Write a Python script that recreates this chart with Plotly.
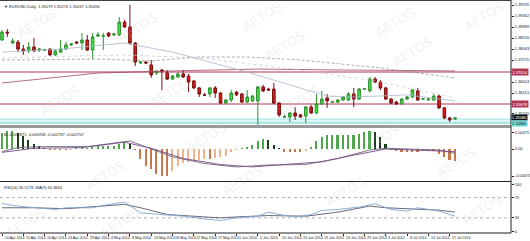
import plotly.graph_objects as go

# ---------------- data ----------------
bar_index = list(range(86))

opens = [1.3843, 1.3877, 1.3830, 1.3834, 1.3804, 1.3796, 1.3813, 1.3800, 1.3800, 1.3804,
         1.3779, 1.3791, 1.3804, 1.3822, 1.3834, 1.3830, 1.3843, 1.3800, 1.3860, 1.3860,
         1.3873, 1.3865, 1.3865, 1.3920, 1.3899, 1.3830, 1.3744, 1.3748, 1.3736, 1.3701,
         1.3714, 1.3701, 1.3675, 1.3684, 1.3697, 1.3688, 1.3667, 1.3637, 1.3607, 1.3611,
         1.3637, 1.3615, 1.3572, 1.3585, 1.3619, 1.3611, 1.3576, 1.3581, 1.3581, 1.3641,
         1.3632, 1.3632, 1.3572, 1.3512, 1.3512, 1.3529, 1.3521, 1.3516, 1.3555, 1.3529,
         1.3568, 1.3594, 1.3576, 1.3576, 1.3585, 1.3585, 1.3611, 1.3589, 1.3632, 1.3624,
         1.3675, 1.3662, 1.3637, 1.3589, 1.3576, 1.3568, 1.3589, 1.3598, 1.3624, 1.3589,
         1.3585, 1.3585, 1.3602, 1.3551, 1.3508, 1.3503]
highs = [1.3886, 1.3890, 1.3852, 1.3843, 1.3822, 1.3834, 1.3852, 1.3809, 1.3804, 1.3809,
         1.3800, 1.3843, 1.3834, 1.3830, 1.3839, 1.3873, 1.3865, 1.3873, 1.3877, 1.3873,
         1.3877, 1.3873, 1.3942, 1.3929, 1.3994, 1.3834, 1.3753, 1.3753, 1.3757, 1.3710,
         1.3718, 1.3714, 1.3693, 1.3705, 1.3714, 1.3697, 1.3671, 1.3641, 1.3615, 1.3641,
         1.3645, 1.3619, 1.3589, 1.3628, 1.3624, 1.3615, 1.3628, 1.3607, 1.3645, 1.3650,
         1.3637, 1.3658, 1.3576, 1.3521, 1.3533, 1.3555, 1.3525, 1.3559, 1.3564, 1.3611,
         1.3624, 1.3611, 1.3581, 1.3589, 1.3602, 1.3619, 1.3637, 1.3637, 1.3637, 1.3684,
         1.3684, 1.3671, 1.3641, 1.3594, 1.3581, 1.3594, 1.3602, 1.3632, 1.3637, 1.3594,
         1.3594, 1.3611, 1.3607, 1.3555, 1.3512, 1.3512]
lows = [1.3839, 1.3856, 1.3826, 1.3791, 1.3779, 1.3787, 1.3791, 1.3791, 1.3796, 1.3774,
        1.3774, 1.3787, 1.3800, 1.3817, 1.3826, 1.3800, 1.3796, 1.3761, 1.3856, 1.3800,
        1.3856, 1.3860, 1.3860, 1.3895, 1.3822, 1.3731, 1.3740, 1.3740, 1.3680, 1.3693,
        1.3628, 1.3671, 1.3671, 1.3680, 1.3680, 1.3619, 1.3632, 1.3598, 1.3602, 1.3598,
        1.3594, 1.3568, 1.3568, 1.3576, 1.3602, 1.3572, 1.3572, 1.3576, 1.3478, 1.3619,
        1.3624, 1.3568, 1.3512, 1.3508, 1.3490, 1.3499, 1.3508, 1.3486, 1.3525, 1.3525,
        1.3564, 1.3551, 1.3572, 1.3572, 1.3581, 1.3581, 1.3555, 1.3585, 1.3628, 1.3619,
        1.3658, 1.3628, 1.3585, 1.3568, 1.3564, 1.3564, 1.3585, 1.3594, 1.3581, 1.3585,
        1.3581, 1.3581, 1.3546, 1.3503, 1.3490, 1.3499]
closes = [1.3877, 1.3873, 1.3839, 1.3804, 1.3796, 1.3813, 1.3796, 1.3804, 1.3801, 1.3779,
          1.3796, 1.3804, 1.3822, 1.3826, 1.3830, 1.3843, 1.3800, 1.3856, 1.3865, 1.3861,
          1.3860, 1.3869, 1.3920, 1.3899, 1.3830, 1.3748, 1.3748, 1.3744, 1.3693, 1.3710,
          1.3710, 1.3675, 1.3688, 1.3697, 1.3684, 1.3662, 1.3637, 1.3611, 1.3606, 1.3637,
          1.3615, 1.3572, 1.3585, 1.3615, 1.3607, 1.3576, 1.3598, 1.3602, 1.3641, 1.3624,
          1.3628, 1.3572, 1.3521, 1.3513, 1.3529, 1.3516, 1.3512, 1.3555, 1.3529, 1.3568,
          1.3589, 1.3581, 1.3577, 1.3585, 1.3598, 1.3611, 1.3589, 1.3632, 1.3633, 1.3675,
          1.3662, 1.3637, 1.3589, 1.3572, 1.3568, 1.3589, 1.3598, 1.3628, 1.3585, 1.3590,
          1.3589, 1.3602, 1.3551, 1.3508, 1.3499, 1.3508]

tick_index = list(range(0, 85, 4))
tick_labels = ["10 Apr 2014", "15 Apr 2014", "20 Apr 2014", "24 Apr 2014", "29 Apr 2014",
               "4 May 2014", "8 May 2014", "13 May 2014", "18 May 2014", "22 May 2014",
               "27 May 2014", "1 Jun 2014", "5 Jun 2014", "10 Jun 2014", "15 Jun 2014",
               "19 Jun 2014", "24 Jun 2014", "29 Jun 2014", "3 Jul 2014", "8 Jul 2014",
               "13 Jul 2014", "17 Jul 2014"]

# moving-average overlays (vertices)
ma_slow_idx = [0, 9, 18, 32, 48, 64, 85]
ma_slow_val = [1.3658, 1.3680, 1.3701, 1.3710, 1.3718, 1.3714, 1.3710]
ma_dash_idx = [0, 18, 28, 37, 46, 56, 71, 85]
ma_dash_val = [1.3757, 1.3761, 1.3753, 1.3770, 1.3770, 1.3757, 1.3723, 1.3680]
ma_fast_idx = [0, 11, 23, 32, 46, 56, 61, 66, 76, 85]
ma_fast_val = [1.3791, 1.3804, 1.3830, 1.3791, 1.3705, 1.3637, 1.3602, 1.3598, 1.3607, 1.3581]
ma_mid_idx = [0, 23, 37, 56, 70, 85]
ma_mid_val = [1.3766, 1.3779, 1.3766, 1.3714, 1.3667, 1.3594]

level_lines = [1.37054, 1.35678]
level_labels = ["1.37054", "1.35678"]
support_band = [1.3486, 1.3503]
last_price_label = "1.35086"
band_label = "1.34860"

price_ticks = [1.39935, 1.39462, 1.38989, 1.38516, 1.38043, 1.37570, 1.36624, 1.36151, 1.35270]
price_tick_text = ["1.39935", "1.39462", "1.38989", "1.38516", "1.38043", "1.37570",
                   "1.36624", "1.36151", "1.35205"]

macd_hist = [0.0040, 0.0045, 0.0045, 0.0040, 0.00325, 0.00225, 0.00125, 0.00075, 0.00025, -0.00025,
             -0.00025, -0.00025, -0.00025, -0.000125, 0.000125, 0.00025, 0.00025, 0.000375, 0.00075, 0.00075,
             0.00075, 0.00075, 0.00125, 0.00175, 0.00125, -0.00025, -0.0025, -0.00425, -0.005, -0.00625,
             -0.00675, -0.00675, -0.0055, -0.00425, -0.0035, -0.00325, -0.003, -0.00275, -0.0025, -0.0025,
             -0.00225, -0.002, -0.00175, -0.00075, -0.000125, 0.000125, 0.0005, 0.001, 0.002, 0.0025,
             0.00225, 0.001, 0.000075, -0.00075, -0.00075, -0.00075, -0.00075, -0.0005, 0.0005, 0.002,
             0.003, 0.0035, 0.0035, 0.0035, 0.0035, 0.0035, 0.0035, 0.00375, 0.00425, 0.0045,
             0.00425, 0.003, 0.00125, -0.00025, -0.0005, -0.00075, -0.00075, -0.00075, -0.00075, -0.0005,
             -0.0005, -0.0005, -0.00125, -0.002, -0.00275, -0.003]
macd_line_idx = [0, 3, 8, 16, 24, 26, 32, 38, 44, 50, 57, 63, 69, 72, 79, 82, 85]
macd_line_val = [-0.00068, 0.00035, 0.0006, 0.0006, 0.002, 0.001, -0.00195, -0.00363, -0.0045,
                 -0.004, -0.00388, -0.00238, -0.00025, 0.00018, 0.0, -0.00025, -0.0011]
macd_signal_idx = [0, 6, 15, 23, 28, 34, 41, 47, 53, 60, 66, 72, 82, 85]
macd_signal_val = [-0.00085, 0.00018, 0.00035, 0.0017, 0.00018, -0.00238, -0.00388, -0.00448,
                   -0.00388, -0.0032, -0.00153, 0.0, -0.0005, -0.00068]
macd_ticks = [0.0042, 0.0, -0.00675]
macd_tick_text = ["0.00475", "0.00", "-0.00675"]

rsi_idx = [0, 2, 5, 10, 12, 17, 19, 23, 26, 30, 34, 38, 41, 44, 48, 50, 52, 55, 58, 60,
           63, 67, 70, 73, 76, 78, 82, 85]
rsi_val = [58.5, 54.5, 51.2, 46.5, 49.9, 49.9, 54.5, 61.2, 39.8, 36.5, 33.2, 27.8, 24.5, 29.8,
           33.2, 41.2, 36.5, 31.8, 36.5, 44.5, 46.5, 51.2, 57.9, 46.5, 43.2, 49.9, 43.2, 33.2]
rsi_ma_idx = [0, 6, 12, 19, 23, 26, 31, 38, 41, 44, 50, 57, 63, 69, 72, 79, 82, 85]
rsi_ma_val = [49.9, 49.9, 48.0, 53.2, 56.5, 49.9, 36.5, 31.8, 29.8, 31.8, 34.5, 33.2, 41.2,
              53.2, 49.9, 46.5, 45.2, 41.2]
rsi_levels = [70, 30]
rsi_ticks = [95, 70, 30, 3]
rsi_tick_text = ["100", "70", "30", "0"]

title_main = "▼ EURUSD,Daily  1.35079 1.35276 1.35037 1.35096"
title_macd = "M -0.002871 -0.000958 -0.002787 -0.002707"
title_rsi = "RSI(14) 30.5178  MA(9) 40.3644"

watermark_pos = [(37, 23), (138, 28), (262, 16), (285, 45), (395, 22), (413, 52), (484, 16),
                 (60, 100), (170, 92), (300, 100), (105, 175), (206, 137), (243, 181),
                 (345, 191), (456, 162), (482, 209), (26, 222), (120, 222), (380, 140)]

# ---------------- figure ----------------
W, H = 530, 241
ML, MR, MT, MB = 0, 19, 0, 8
PW, PH = W - ML - MR, H - MT - MB


def py(px):
    """pixel row from top of plot area -> paper fraction"""
    return (PH - px) / PH


px_per_bar = 5.33
x0 = -2 / px_per_bar
x1 = x0 + PW / px_per_bar

FONT = "Liberation Sans"
TXT = 4

fig = go.Figure()

# support band (cyan)
fig.add_shape(type="rect", xref="paper", yref="y", x0=0, x1=1,
              y0=support_band[0], y1=support_band[1],
              fillcolor="#dff6f6", line=dict(width=0), layer="below")
fig.add_shape(type="line", xref="paper", yref="y", x0=0, x1=1,
              y0=support_band[0], y1=support_band[0],
              line=dict(color="#5fd3d3", width=1), layer="below")
fig.add_shape(type="line", xref="paper", yref="y", x0=0, x1=1,
              y0=support_band[1], y1=support_band[1],
              line=dict(color="#9fe6e6", width=1), layer="below")

# red horizontal levels
for lv in level_lines:
    fig.add_shape(type="line", xref="paper", yref="y", x0=0, x1=1, y0=lv, y1=lv,
                  line=dict(color="#b2364f", width=1), layer="below")

# moving averages
fig.add_trace(go.Scatter(x=ma_slow_idx, y=ma_slow_val, mode="lines", xaxis="x", yaxis="y",
                         line=dict(color="#a04a5e", width=0.8), hoverinfo="skip"))
fig.add_trace(go.Scatter(x=ma_dash_idx, y=ma_dash_val, mode="lines", xaxis="x", yaxis="y",
                         line=dict(color="#8a8a8a", width=0.7, dash="3px,2px"), hoverinfo="skip"))
fig.add_trace(go.Scatter(x=ma_mid_idx, y=ma_mid_val, mode="lines", xaxis="x", yaxis="y",
                         line=dict(color="#c0c0cc", width=0.7, dash="dot"), hoverinfo="skip"))
fig.add_trace(go.Scatter(x=ma_fast_idx, y=ma_fast_val, mode="lines", xaxis="x", yaxis="y",
                         line=dict(color="#aab6cc", width=0.8), hoverinfo="skip"))

# candles
fig.add_trace(go.Candlestick(
    x=bar_index, open=opens, high=highs, low=lows, close=closes,
    xaxis="x", yaxis="y", whiskerwidth=0,
    increasing=dict(line=dict(color="#2f8f2f", width=1), fillcolor="#3ee03e"),
    decreasing=dict(line=dict(color="#7a1010", width=1), fillcolor="#d81c1c"),
    hoverinfo="skip"))

# MACD histogram colours by direction
hist_colors = []
for i, v in enumerate(macd_hist):
    prev = macd_hist[i - 1] if i > 0 else v
    if v >= 0:
        hist_colors.append("#4fa64f" if v >= prev else "#1f3d1f")
    else:
        hist_colors.append("#c8764a" if v <= prev else "#f0b48e")

fig.add_trace(go.Bar(x=bar_index, y=macd_hist, xaxis="x", yaxis="y2", width=0.3,
                     marker=dict(color=hist_colors, line=dict(width=0)), hoverinfo="skip"))
fig.add_trace(go.Scatter(x=macd_line_idx, y=macd_line_val, mode="lines", xaxis="x", yaxis="y2",
                         line=dict(color="#6a6a78", width=0.9), hoverinfo="skip"))
fig.add_trace(go.Scatter(x=macd_signal_idx, y=macd_signal_val, mode="lines", xaxis="x", yaxis="y2",
                         line=dict(color="#7a4a8a", width=0.9), hoverinfo="skip"))

# RSI
for lv in rsi_levels:
    fig.add_shape(type="line", xref="paper", yref="y3", x0=0, x1=1, y0=lv, y1=lv,
                  line=dict(color="#b0b0b0", width=1, dash="dot"), layer="below")
fig.add_trace(go.Scatter(x=rsi_ma_idx, y=rsi_ma_val, mode="lines", xaxis="x", yaxis="y3",
                         line=dict(color="#585868", width=0.9), hoverinfo="skip"))
fig.add_trace(go.Scatter(x=rsi_idx, y=rsi_val, mode="lines", xaxis="x", yaxis="y3",
                         line=dict(color="#7ea6d8", width=0.9), hoverinfo="skip"))

# panel separators / frame
fig.add_shape(type="rect", xref="paper", yref="paper", x0=0, x1=1, y0=py(128), y1=py(125),
              fillcolor="#9a9a9a", line=dict(width=0))
fig.add_shape(type="line", xref="paper", yref="paper", x0=0, x1=1, y0=py(181.5), y1=py(181.5),
              line=dict(color="#202020", width=1))
fig.add_shape(type="line", xref="paper", yref="paper", x0=0, x1=1, y0=py(0.5), y1=py(0.5),
              line=dict(color="#404040", width=1))
fig.add_shape(type="line", xref="paper", yref="paper", x0=0, x1=1, y0=0, y1=0,
              line=dict(color="#202020", width=1))
fig.add_shape(type="line", xref="paper", yref="paper", x0=1, x1=1, y0=0, y1=1,
              line=dict(color="#202020", width=1))

annotations = []
# watermarks
for (wx, wy) in watermark_pos:
    annotations.append(dict(text="AETOS", xref="paper", yref="paper",
                            x=wx / PW, y=py(wy), showarrow=False, textangle=-32,
                            font=dict(family="DejaVu Sans", size=13, color="rgba(190,190,190,0.22)"),
                            xanchor="center", yanchor="middle"))

# panel titles
annotations.append(dict(text=title_main, xref="paper", yref="paper", x=0.004, y=py(1.5),
                        xanchor="left", yanchor="top", showarrow=False,
                        font=dict(family=FONT, size=TXT, color="#202020")))
annotations.append(dict(text=title_macd, xref="paper", yref="paper", x=0.004, y=py(129.5),
                        xanchor="left", yanchor="top", showarrow=False,
                        font=dict(family=FONT, size=TXT, color="#202020")))
annotations.append(dict(text=title_rsi, xref="paper", yref="paper", x=0.004, y=py(183),
                        xanchor="left", yanchor="top", showarrow=False,
                        font=dict(family=FONT, size=TXT, color="#202020")))

# x tick labels (left aligned after the tick like MT4)
for ti, tl in zip(tick_index, tick_labels):
    annotations.append(dict(text=tl, xref="x", yref="paper", x=ti, y=0, xshift=0.5,
                            yshift=-1, xanchor="left", yanchor="top", showarrow=False,
                            font=dict(family=FONT, size=3.6, color="#202020")))

# price boxes on right axis
for lv, lt in zip(level_lines, level_labels):
    annotations.append(dict(text=lt, xref="paper", yref="y", x=1, y=lv, xanchor="left",
                            yanchor="middle", showarrow=False, bgcolor="#b2364f",
                            font=dict(family=FONT, size=TXT, color="white"), borderpad=0.5))
annotations.append(dict(text=last_price_label, xref="paper", yref="y", x=1, y=closes[-1],
                        xanchor="left", yanchor="middle", showarrow=False, bgcolor="#101010",
                        font=dict(family=FONT, size=TXT, color="white"), borderpad=0.1))
annotations.append(dict(text=band_label, xref="paper", yref="y", x=1, y=support_band[0],
                        xanchor="left", yanchor="middle", showarrow=False, bgcolor="#6fd9d9",
                        font=dict(family=FONT, size=TXT, color="#103030"), borderpad=0.1))

fig.update_layout(
    width=W, height=H,
    margin=dict(l=ML, r=MR, t=MT, b=MB),
    paper_bgcolor="white", plot_bgcolor="white",
    showlegend=False,
    bargap=0,
    annotations=annotations,
    xaxis=dict(domain=[0, 1], range=[x0, x1], anchor="y3", showgrid=False, zeroline=False,
               showticklabels=False, ticks="outside", ticklen=2, tickcolor="#202020",
               tickvals=tick_index, rangeslider=dict(visible=False), fixedrange=True),
    yaxis=dict(domain=[py(125), py(2)], range=[1.4015 - 0.00043 * 125, 1.4015 - 0.00043 * 2],
               side="right", anchor="x", showgrid=False, zeroline=False,
               tickvals=price_ticks, ticktext=price_tick_text, ticks="outside", ticklen=2,
               tickcolor="#202020", tickfont=dict(family=FONT, size=TXT, color="#202020")),
    yaxis2=dict(domain=[py(181), py(128)], range=[-0.008, 0.00525],
                side="right", anchor="x", showgrid=False, zeroline=False,
                tickvals=macd_ticks, ticktext=macd_tick_text, ticks="outside", ticklen=2,
                tickcolor="#202020", tickfont=dict(family=FONT, size=TXT, color="#202020")),
    yaxis3=dict(domain=[0, py(182)], range=[0, 100.8],
                side="right", anchor="x", showgrid=False, zeroline=False,
                tickvals=rsi_ticks, ticktext=rsi_tick_text, ticks="outside", ticklen=2,
                tickcolor="#202020", tickfont=dict(family=FONT, size=TXT, color="#202020")),
)

fig.write_html("out.html")
